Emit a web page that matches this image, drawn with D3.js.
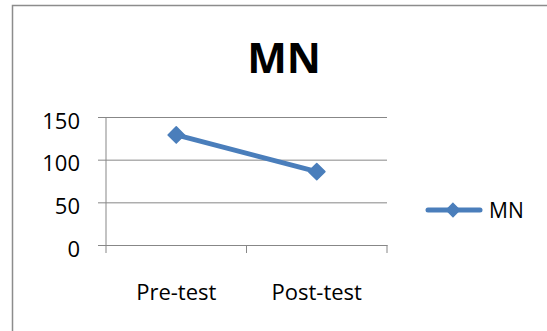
<!DOCTYPE html>
<html>
<head>
<meta charset="utf-8">
<script src="https://cdn.jsdelivr.net/npm/d3@7"></script>
<style>
  html, body { margin: 0; padding: 0; background: #fff; }
  svg { display: block; }
  text { font-family: "Open Sans", sans-serif; fill: #000; }
</style>
</head>
<body>
<svg id="chart" width="547" height="331"></svg>
<script>
// MN scores before and after the test
const categories = ["Pre-test", "Post-test"];
const seriesName = "MN";
const values = [129, 86];
const yTicks = [0, 50, 100, 150];

const svg = d3.select("#chart");
const W = 547, H = 331;
const plot = { left: 106, right: 387, top: 117, bottom: 245 };
const blue = "#4a7ebb";
const gridColor = "#878787";

svg.append("rect").attr("width", W).attr("height", H).attr("fill", "#fff");

// chart frame (left and top edges visible)
svg.append("path")
  .attr("d", `M12.5,${H} L12.5,5.5 L${W},5.5`)
  .attr("fill", "none")
  .attr("stroke", "#8c8c8c")
  .attr("stroke-width", 1.5);

// title
svg.append("text")
  .attr("x", 284).attr("y", 73)
  .attr("text-anchor", "middle")
  .attr("font-size", 42)
  .attr("font-weight", "bold")
  .text(seriesName);

const x = d3.scaleBand().domain(categories).range([plot.left, plot.right]);
const y = d3.scaleLinear().domain([0, 150]).range([plot.bottom, plot.top]);

// horizontal gridlines with left tick marks
const yAxis = d3.axisLeft(y).tickValues(yTicks).tickSize(-(plot.right - plot.left)).tickPadding(26);
const gy = svg.append("g").attr("transform", `translate(${plot.left},0)`).call(yAxis);
gy.select(".domain").remove();
gy.selectAll(".tick line")
  .attr("x1", -8)
  .attr("stroke", gridColor).attr("stroke-width", 1);
gy.selectAll(".tick text")
  .attr("font-size", 22)
  .attr("dy", "0.5em")
  .attr("font-family", "'Open Sans', sans-serif")
  .attr("fill", "#000");

// vertical axis line
svg.append("line")
  .attr("x1", plot.left).attr("x2", plot.left)
  .attr("y1", plot.top).attr("y2", plot.bottom)
  .attr("stroke", gridColor).attr("stroke-width", 1);

// category axis
const xAxis = d3.axisBottom(x).tickSize(0).tickPadding(39);
const gx = svg.append("g").attr("transform", `translate(0,${plot.bottom})`).call(xAxis);
gx.select(".domain").attr("stroke", gridColor).attr("stroke-width", 1);
gx.selectAll(".tick text")
  .attr("font-size", 22)
  .attr("font-family", "'Open Sans', sans-serif")
  .attr("fill", "#000");

// tick marks on band boundaries
const bounds = [plot.left, ...categories.map(c => x(c) + x.bandwidth())];
svg.append("g").selectAll("line").data(bounds).join("line")
  .attr("x1", d => d).attr("x2", d => d)
  .attr("y1", plot.bottom).attr("y2", plot.bottom + 8)
  .attr("stroke", gridColor).attr("stroke-width", 1);

// series line
const cx = c => x(c) + x.bandwidth() / 2;
const line = d3.line().x((d, i) => cx(categories[i])).y(d => y(d));
svg.append("path")
  .datum(values)
  .attr("d", line)
  .attr("fill", "none")
  .attr("stroke", blue)
  .attr("stroke-width", 5)
  .attr("stroke-linecap", "round");

const diamond = d3.symbol().type(d3.symbolDiamond2).size(170);
svg.append("g").selectAll("path").data(values).join("path")
  .attr("d", diamond)
  .attr("transform", (d, i) => `translate(${cx(categories[i])},${y(d)})`)
  .attr("fill", blue)
  .attr("stroke", blue)
  .attr("stroke-width", 1.5)
  .attr("stroke-linejoin", "round");

// legend
const lg = svg.append("g").attr("transform", "translate(0,210)");
lg.append("line")
  .attr("x1", 428).attr("x2", 480)
  .attr("stroke", blue).attr("stroke-width", 5).attr("stroke-linecap", "round");
lg.append("path")
  .attr("d", d3.symbol().type(d3.symbolDiamond2).size(110))
  .attr("transform", "translate(453,0)")
  .attr("fill", blue).attr("stroke", blue).attr("stroke-width", 1.5);
lg.append("text")
  .attr("x", 489).attr("y", 8)
  .attr("font-size", 21)
  .text(seriesName);
</script>
</body>
</html>
